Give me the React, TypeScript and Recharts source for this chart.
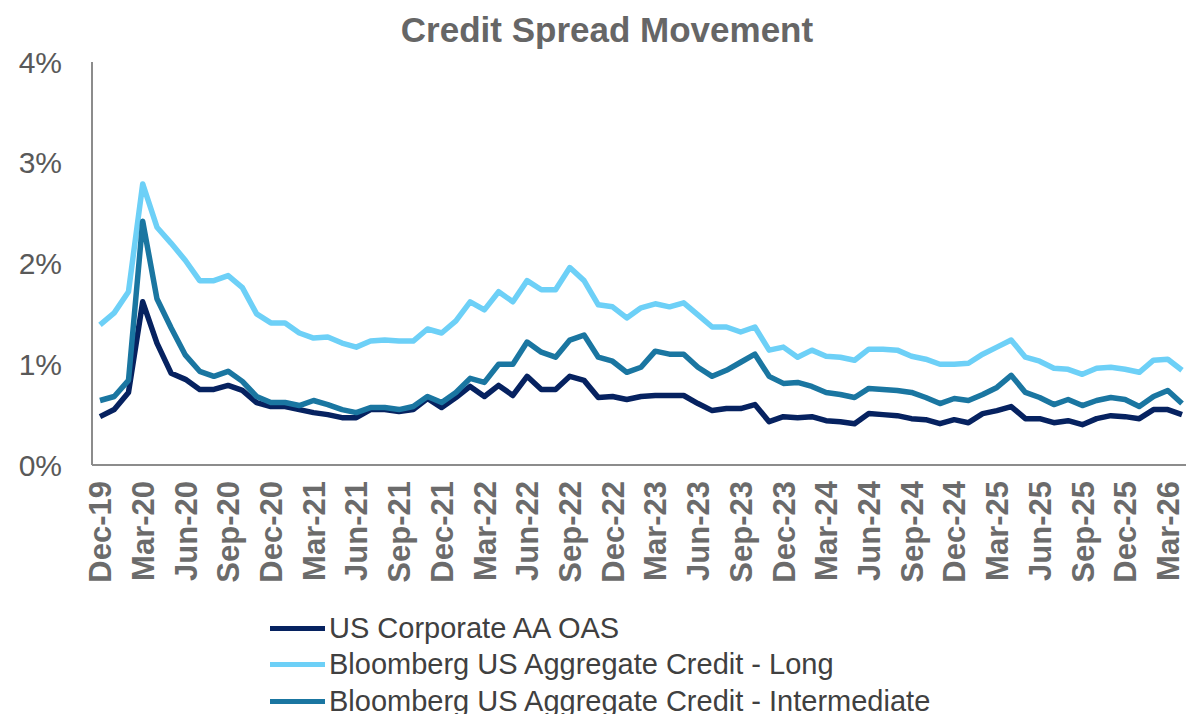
import { LineChart, Line, XAxis, YAxis, Legend } from "recharts"

// month-end observations, Dec-19 .. Apr-26
const months = [
  "Dec-19",
  "Jan-20", "Feb-20", "Mar-20", "Apr-20", "May-20", "Jun-20", "Jul-20", "Aug-20", "Sep-20", "Oct-20", "Nov-20", "Dec-20",
  "Jan-21", "Feb-21", "Mar-21", "Apr-21", "May-21", "Jun-21", "Jul-21", "Aug-21", "Sep-21", "Oct-21", "Nov-21", "Dec-21",
  "Jan-22", "Feb-22", "Mar-22", "Apr-22", "May-22", "Jun-22", "Jul-22", "Aug-22", "Sep-22", "Oct-22", "Nov-22", "Dec-22",
  "Jan-23", "Feb-23", "Mar-23", "Apr-23", "May-23", "Jun-23", "Jul-23", "Aug-23", "Sep-23", "Oct-23", "Nov-23", "Dec-23",
  "Jan-24", "Feb-24", "Mar-24", "Apr-24", "May-24", "Jun-24", "Jul-24", "Aug-24", "Sep-24", "Oct-24", "Nov-24", "Dec-24",
  "Jan-25", "Feb-25", "Mar-25", "Apr-25", "May-25", "Jun-25", "Jul-25", "Aug-25", "Sep-25", "Oct-25", "Nov-25", "Dec-25",
  "Jan-26", "Feb-26", "Mar-26", "Apr-26",
]

// spreads in %
const corpAA = [
  0.48,
  0.55, 0.72, 1.62, 1.21, 0.91, 0.85, 0.75, 0.75, 0.79, 0.74, 0.62, 0.58,
  0.58, 0.55, 0.52, 0.50, 0.47, 0.47, 0.55, 0.55, 0.53, 0.55, 0.66, 0.57,
  0.67, 0.78, 0.68, 0.79, 0.69, 0.88, 0.75, 0.75, 0.88, 0.84, 0.67, 0.68,
  0.65, 0.68, 0.69, 0.69, 0.69, 0.61, 0.54, 0.56, 0.56, 0.60, 0.43, 0.48,
  0.47, 0.48, 0.44, 0.43, 0.41, 0.51, 0.50, 0.49, 0.46, 0.45, 0.41, 0.45,
  0.42, 0.51, 0.54, 0.58, 0.46, 0.46, 0.42, 0.44, 0.40, 0.46, 0.49, 0.48,
  0.46, 0.55, 0.55, 0.50,
]

const aggLong = [
  1.39,
  1.51, 1.72, 2.79, 2.36, 2.20, 2.03, 1.83, 1.83, 1.88, 1.76, 1.50, 1.41,
  1.41, 1.31, 1.26, 1.27, 1.21, 1.17, 1.23, 1.24, 1.23, 1.23, 1.35, 1.31,
  1.43, 1.62, 1.54, 1.72, 1.62, 1.83, 1.74, 1.74, 1.96, 1.83, 1.59, 1.57,
  1.46, 1.56, 1.60, 1.57, 1.61, 1.49, 1.37, 1.37, 1.32, 1.37, 1.14, 1.17,
  1.07, 1.14, 1.08, 1.07, 1.04, 1.15, 1.15, 1.14, 1.08, 1.05, 1.00, 1.00,
  1.01, 1.10, 1.17, 1.24, 1.07, 1.03, 0.96, 0.95, 0.90, 0.96, 0.97, 0.95,
  0.92, 1.04, 1.05, 0.94,
]

const aggInter = [
  0.64,
  0.68, 0.84, 2.42, 1.65, 1.36, 1.09, 0.93, 0.88, 0.93, 0.83, 0.68, 0.62,
  0.62, 0.59, 0.64, 0.60, 0.55, 0.52, 0.57, 0.57, 0.55, 0.58, 0.68, 0.62,
  0.72, 0.86, 0.82, 1.00, 1.00, 1.22, 1.12, 1.07, 1.24, 1.29, 1.07, 1.03,
  0.92, 0.97, 1.13, 1.10, 1.10, 0.97, 0.88, 0.94, 1.02, 1.10, 0.88, 0.81,
  0.82, 0.78, 0.72, 0.70, 0.67, 0.76, 0.75, 0.74, 0.72, 0.67, 0.61, 0.66,
  0.64, 0.70, 0.77, 0.89, 0.72, 0.67, 0.60, 0.65, 0.59, 0.64, 0.67, 0.65,
  0.58, 0.68, 0.74, 0.61,
]

const seriesNames = [
  "US Corporate AA OAS",
  "Bloomberg US Aggregate Credit - Long",
  "Bloomberg US Aggregate Credit - Intermediate",
]

const yTicks = [0, 1, 2, 3, 4]

const data = months.map((m, i) => ({
  month: m,
  corp: corpAA[i],
  long: aggLong[i],
  inter: aggInter[i],
}))

const FONT = "'Liberation Sans', Arial, sans-serif"
const AXIS_GRAY = "#8c8c8c"

function MonthTick({ x, y, payload }: any) {
  return (
    <g transform={`translate(${x},${y})`}>
      <text
        transform="rotate(-90)"
        x={-8}
        y={0}
        dy="0.36em"
        textAnchor="end"
        fill="#6b6b6b"
        fontSize={31}
        fontWeight={700}
        fontFamily={FONT}
      >
        {payload.value}
      </text>
    </g>
  )
}

function LegendRows({ payload }: any) {
  // keep the series order of the original legend
  const items = [...(payload || [])].sort(
    (a: any, b: any) => seriesNames.indexOf(a.value) - seriesNames.indexOf(b.value)
  )
  return (
    <div>
      {items.map((item: any) => (
        <div key={item.value} style={{ display: "flex", alignItems: "center", height: 36.5 }}>
          <span style={{ display: "inline-block", width: 55, height: 5, background: item.color, marginRight: 4 }} />
          <span style={{ fontSize: 29, color: "#404040", fontFamily: FONT, whiteSpace: "nowrap" }}>{item.value}</span>
        </div>
      ))}
    </div>
  )
}

export default function App() {
  return (
    <div style={{ position: "absolute", left: 0, top: 0, width: 1186, height: 714, background: "#fff", fontFamily: FONT, overflow: "hidden" }}>
      <div
        style={{
          position: "absolute",
          left: 14,
          top: 13,
          width: 1186,
          textAlign: "center",
          fontSize: 35,
          lineHeight: "34px",
          fontWeight: 700,
          color: "#666666",
        }}
      >
        Credit Spread Movement
      </div>
      <LineChart width={1186} height={714} data={data} margin={{ top: 62, right: 0, left: 0, bottom: 119 }}>
        <XAxis
          dataKey="month"
          interval={2}
          tick={<MonthTick />}
          tickLine={false}
          axisLine={{ stroke: AXIS_GRAY, strokeWidth: 2 }}
          height={130}
          padding={{ left: 8, right: 4 }}
        />
        <YAxis
          domain={[0, 4]}
          ticks={yTicks}
          tickFormatter={(v) => `${v}%`}
          width={92}
          tickLine={false}
          tickMargin={24}
          axisLine={{ stroke: AXIS_GRAY, strokeWidth: 2 }}
          tick={{ fill: "#595959", fontSize: 30, fontFamily: FONT }}
        />
        <Legend
          layout="horizontal"
          verticalAlign="middle"
          align="center"
          content={<LegendRows />}
          wrapperStyle={{ top: 610, left: 270, width: 900 }}
        />
        <Line
          name={seriesNames[0]}
          dataKey="corp"
          stroke="#062260"
          strokeWidth={5.5}
          dot={false}
          strokeLinejoin="round"
          isAnimationActive={false}
        />
        <Line
          name={seriesNames[1]}
          dataKey="long"
          stroke="#6dd0f7"
          strokeWidth={5.5}
          dot={false}
          strokeLinejoin="round"
          isAnimationActive={false}
        />
        <Line
          name={seriesNames[2]}
          dataKey="inter"
          stroke="#1a76a1"
          strokeWidth={5.5}
          dot={false}
          strokeLinejoin="round"
          isAnimationActive={false}
        />
      </LineChart>
    </div>
  )
}
